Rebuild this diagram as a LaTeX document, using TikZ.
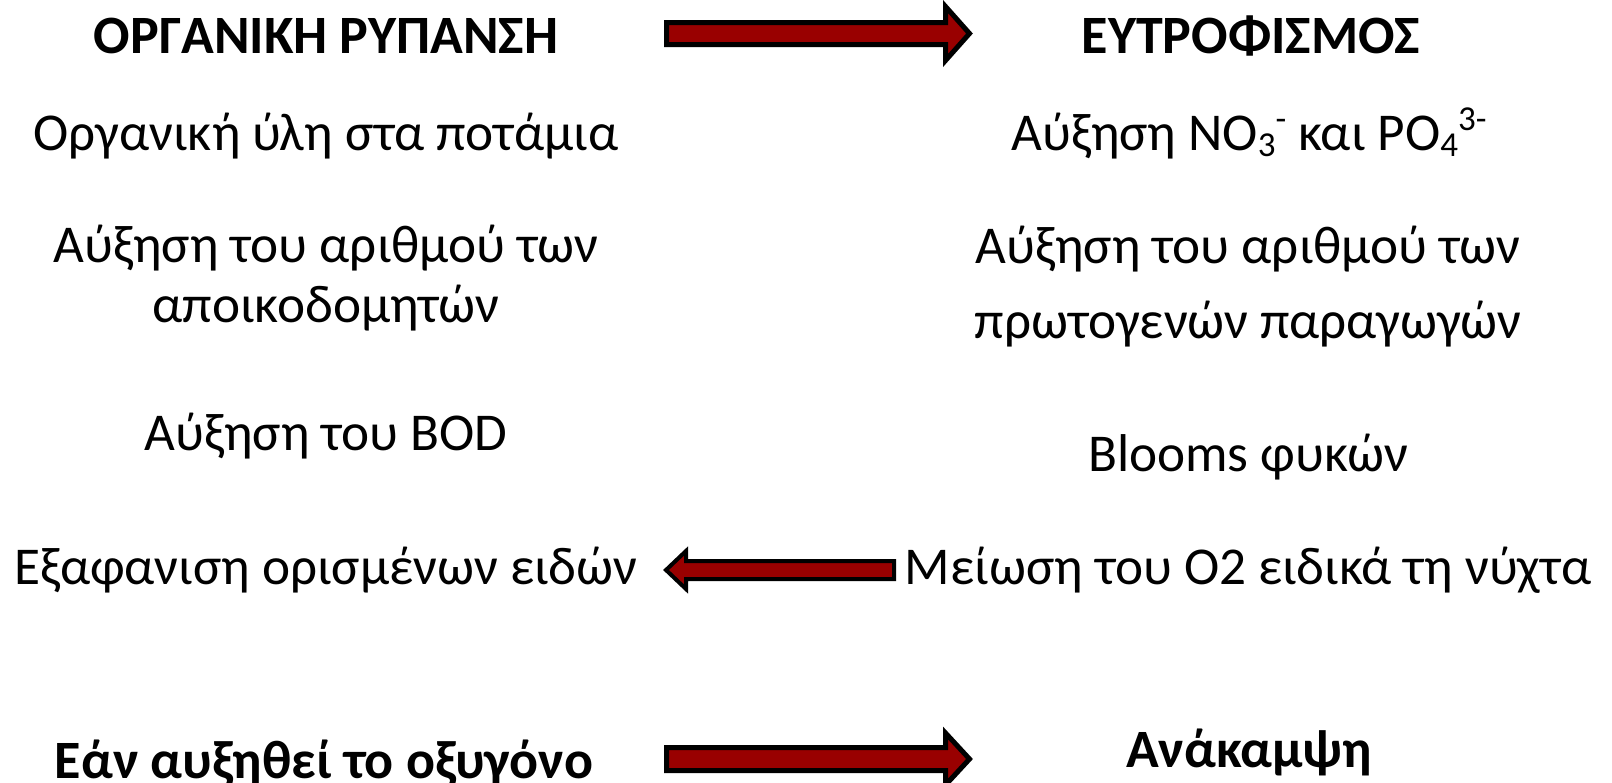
\documentclass[tikz,border=0pt]{standalone}
\usepackage{fontspec}
\setmainfont{Carlito}
\definecolor{arrowred}{RGB}{153,0,0}
\newcommand\subtxt[1]{\raisebox{-0.13em}{\fontsize{35}{35}\selectfont #1}}
\newcommand\suptxt[1]{\raisebox{0.36em}{\fontsize{35}{35}\selectfont #1}}
\tikzset{
  txt/.style={font=\fontsize{53.2}{60}\selectfont, align=center, anchor=base, inner sep=0pt},
  txtwide/.style={font=\fontsize{53.2}{75}\selectfont, align=center, anchor=base, inner sep=0pt},
  ttl/.style={font=\bfseries\fontsize{54}{60}\selectfont, anchor=base, inner sep=0pt},
  blockarrow/.style={fill=arrowred, draw=black, line width=5pt, line join=miter},
  pics/blockarr/.style n args={5}{code={
    \path[blockarrow, line width=#5]
      (0,-#2) -- ({#1-#4},-#2) -- ({#1-#4},-#3) -- (#1,0) -- ({#1-#4},#3)
      -- ({#1-#4},#2) -- (0,#2) -- cycle;}}
}
\begin{document}
\begin{tikzpicture}[x=1pt,y=-1pt]
  \useasboundingbox (0,0) rectangle (1612,782);
  % titles
  \node[ttl] (otitle) at (326,53) {ΟΡΓΑΝΙΚΗ ΡΥΠΑΝΣΗ};
  \node[ttl] (etitle) at (1251,53) {ΕΥΤΡΟΦΙΣΜΟΣ};
  % left column
  \node[txt] (l1) at (326,150) {Οργανική ύλη στα ποτάμια};
  \node[txt] (l2) at (326,322) {Αύξηση του αριθμού των\\αποικοδομητών};
  \node[txt] (l3) at (326,450) {Αύξηση του BOD};
  \node[txt] (l4) at (326,584) {Εξαφανιση ορισμένων ειδών};
  \node[ttl] (l5) at (324,778) {Εάν αυξηθεί το οξυγόνο};
  % right column
  \node[txt] (r1) at (1249,150) {Αύξηση NO\subtxt{3}\suptxt{-} και PO\subtxt{4}\suptxt{3-}};
  \node[txtwide] (r2) at (1248,338) {Αύξηση του αριθμού των\\πρωτογενών παραγωγών};
  \node[txt] (r3) at (1248,471) {Blooms φυκών};
  \node[txt] (r4) at (1248,584) {Μείωση του Ο2 ειδικά τη νύχτα};
  \node[ttl] (r5) at (1249,767) {Ανάκαμψη};
  % block arrows
  \pic at (666.5,33.5) {blockarr={303}{11}{27}{24}{5pt}};
  \pic[xscale=-1] at (894,570) {blockarr={228}{9}{19}{20}{4pt}};
  \pic at (666.5,759) {blockarr={303}{11.5}{26}{24}{5pt}};
\end{tikzpicture}
\end{document}
